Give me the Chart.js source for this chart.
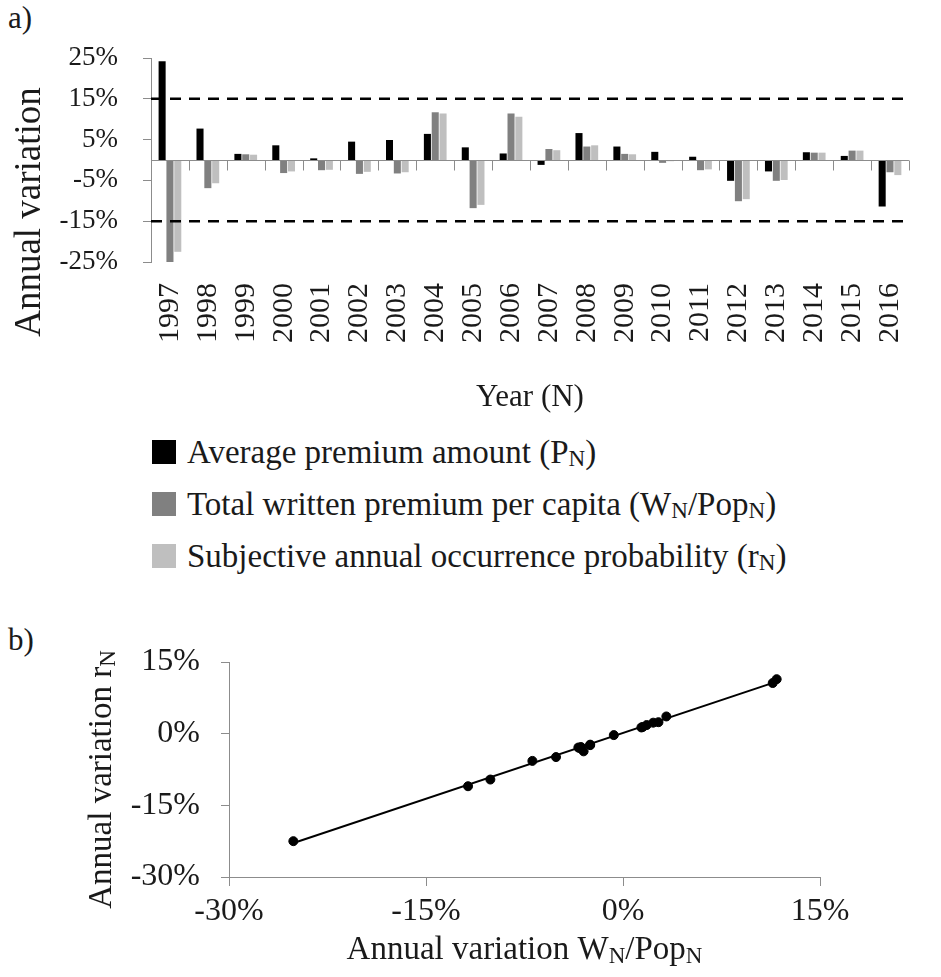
<!DOCTYPE html>
<html>
<head>
<meta charset="utf-8">
<title>Annual variation</title>
<script src="https://cdn.jsdelivr.net/npm/chart.js@4.4.1/dist/chart.umd.min.js"></script>
<style>
  html, body { margin: 0; padding: 0; background: #fff; overflow: hidden; }
  body { position: relative; width: 941px; height: 977px; font-family: "Liberation Serif", "Times New Roman", serif; color: #1a1a1a; }
  .wrap { position: absolute; left: 0; }
  #wrapTop { top: 0; width: 947px; height: 425px; }
  #wrapBottom { top: 600px; width: 941px; height: 377px; }
  .panel { position: absolute; left: 8px; font-size: 31px; line-height: 1; }
  #legend { position: absolute; left: 152px; top: 426px; font-size: 33px; }
  #legend .row { height: 52px; display: flex; align-items: center; white-space: nowrap; }
  #legend .sw { width: 24px; height: 24px; margin-right: 11px; flex: none; }
  sub { font-size: 70%; vertical-align: -0.15em; line-height: 0; }
</style>
</head>
<body>
<div class="panel" style="top:2px">a)</div>
<div class="panel" style="top:624px">b)</div>
<div class="wrap" id="wrapTop"><canvas id="barChart"></canvas></div>
<div id="legend"></div>
<div class="wrap" id="wrapBottom"><canvas id="scatterChart"></canvas></div>
<script>
// annual variation in %
const years = ['1997', '1998', '1999', '2000', '2001', '2002', '2003', '2004', '2005', '2006',
  '2007', '2008', '2009', '2010', '2011', '2012', '2013', '2014', '2015', '2016']
const avgPremium = [24.2, 7.7, 1.5, 3.6, 0.4, 4.5, 4.9, 6.4, 3.1, 1.6,
  -1.2, 6.6, 3.3, 2.0, 0.8, -5.1, -2.8, 1.9, 1.0, -11.4]
const writtenPerCapita = [-25.1, -6.9, 1.4, -3.2, -2.5, -3.4, -3.3, 11.7, -11.8, 11.4,
  2.7, 3.3, 1.5, -0.7, -2.5, -10.1, -5.1, 1.8, 2.3, -3.0]
const occurrenceProb = [-22.5, -5.7, 1.3, -2.8, -2.4, -2.9, -3.0, 11.4, -11.0, 10.6,
  2.4, 3.6, 1.4, -0.3, -2.3, -9.6, -4.9, 1.8, 2.3, -3.7]

const seriesNames = [
  'Average premium amount (PN)',
  'Total written premium per capita (WN/PopN)',
  'Subjective annual occurrence probability (rN)'
]
// same names split in [text, isSubscript] runs
const legendParts = [
  [['Average premium amount (P', 0], ['N', 1], [')', 0]],
  [['Total written premium per capita (W', 0], ['N', 1], ['/Pop', 0], ['N', 1], [')', 0]],
  [['Subjective annual occurrence probability (r', 0], ['N', 1], [')', 0]]
]
const barTicks = [-25, -15, -5, 5, 15, 25]
const limitLines = [15, -15]
const barYTitle = [['Annual variation', 0]]

const scatterTicks = [-30, -15, 0, 15]
const trendX = [-25.2, 11.7]
const trendY = [-23.0, 10.9]
const xTitleParts = [['Annual variation W', 0], ['N', 1], ['/Pop', 0], ['N', 1]]
const yTitleParts = [['Annual variation r', 0], ['N', 1]]

const seriesColors = ['#000000', '#808080', '#bfbfbf']
const axisColor = '#8c8c8c'
const textColor = '#1a1a1a'
const serif = '"Liberation Serif", "Times New Roman", serif'

Chart.defaults.font.family = serif
Chart.defaults.color = textColor

function setTicks(list) {
  return scale => { scale.ticks = list.map(v => ({ value: v })) }
}

function pct(v) {
  return v + '%'
}

// text with subscripts, centred on (x, y), optionally rotated to read upwards
function drawRich(ctx, parts, x, y, size, rotate) {
  const subSize = Math.round(size * 0.7)
  ctx.save()
  ctx.translate(x, y)
  if (rotate) ctx.rotate(-Math.PI / 2)
  ctx.fillStyle = textColor
  ctx.textBaseline = 'alphabetic'
  ctx.textAlign = 'left'
  const widths = parts.map(([t, sub]) => {
    ctx.font = (sub ? subSize : size) + 'px ' + serif
    return ctx.measureText(t).width
  })
  let cx = -widths.reduce((a, b) => a + b, 0) / 2
  const base = size * 0.33
  parts.forEach(([t, sub], i) => {
    ctx.font = (sub ? subSize : size) + 'px ' + serif
    ctx.fillText(t, cx, sub ? base + size * 0.12 : base)
    cx += widths[i]
  })
  ctx.restore()
}

// dashed +-15% limits, zero axis with category tick marks, y title
const barExtras = {
  id: 'barExtras',
  afterDatasetsDraw(chart) {
    const { ctx, chartArea, scales } = chart
    ctx.save()
    ctx.strokeStyle = axisColor
    ctx.lineWidth = 1
    const y0 = Math.round(scales.y.getPixelForValue(0)) + 0.5
    ctx.beginPath()
    ctx.moveTo(chartArea.left, y0)
    ctx.lineTo(chartArea.right, y0)
    const half = (scales.x.getPixelForValue(1) - scales.x.getPixelForValue(0)) / 2
    years.forEach((yr, i) => {
      const px = Math.round(scales.x.getPixelForValue(i) + half) + 0.5
      ctx.moveTo(px, y0)
      ctx.lineTo(px, y0 + 10)
    })
    ctx.stroke()

    ctx.strokeStyle = '#000'
    ctx.lineWidth = 2.5
    ctx.setLineDash([11, 8])
    limitLines.forEach(v => {
      const py = scales.y.getPixelForValue(v)
      ctx.beginPath()
      ctx.moveTo(chartArea.left, py)
      ctx.lineTo(chartArea.right, py)
      ctx.stroke()
    })
    ctx.restore()
  },
  afterDraw(chart) {
    const { ctx, chartArea } = chart
    drawRich(ctx, barYTitle, 28, (chartArea.top + chartArea.bottom) / 2 + 52, 37, true)
  }
}

const richTitles = {
  id: 'richTitles',
  afterDraw(chart) {
    const { ctx, chartArea } = chart
    drawRich(ctx, xTitleParts, (chartArea.left + chartArea.right) / 2, chartArea.bottom + 71, 33, false)
    drawRich(ctx, yTitleParts, 100, (chartArea.top + chartArea.bottom) / 2 + 10, 33, true)
  }
}

new Chart(document.getElementById('barChart'), {
  type: 'bar',
  data: {
    labels: years,
    datasets: [
      { label: seriesNames[0], data: avgPremium, backgroundColor: seriesColors[0] },
      { label: seriesNames[1], data: writtenPerCapita, backgroundColor: seriesColors[1] },
      { label: seriesNames[2], data: occurrenceProb, backgroundColor: seriesColors[2] }
    ]
  },
  options: {
    responsive: true,
    maintainAspectRatio: false,
    animation: false,
    datasets: { bar: { categoryPercentage: 0.62, barPercentage: 0.9 } },
    layout: { padding: { top: 58, left: 0, right: 0, bottom: 0 } },
    plugins: { legend: { display: false }, tooltip: { enabled: false } },
    scales: {
      x: {
        grid: { display: false, drawTicks: false },
        border: { display: false },
        ticks: { font: { size: 30 }, minRotation: 90, maxRotation: 90, padding: 21, autoSkip: false },
        title: { display: true, text: 'Year (N)', font: { size: 31 }, padding: { top: 0, bottom: 9 } },
        afterFit: s => { s.height = 163 }
      },
      y: {
        min: -25,
        max: 25,
        afterBuildTicks: setTicks(barTicks),
        ticks: { font: { size: 27 }, padding: 25, callback: pct },
        grid: { drawOnChartArea: false, tickLength: 8, color: axisColor },
        border: { color: axisColor },
        afterFit: s => { s.width = 151 }
      }
    }
  },
  plugins: [barExtras]
})

// legend with subscripts as html
const legendEl = document.getElementById('legend')
legendParts.forEach((parts, i) => {
  const row = document.createElement('div')
  row.className = 'row'
  const sw = document.createElement('span')
  sw.className = 'sw'
  sw.style.background = seriesColors[i]
  row.appendChild(sw)
  const txt = document.createElement('span')
  parts.forEach(([t, sub]) => {
    if (sub) {
      const s = document.createElement('sub')
      s.textContent = t
      txt.appendChild(s)
    } else {
      txt.appendChild(document.createTextNode(t))
    }
  })
  row.appendChild(txt)
  legendEl.appendChild(row)
})

const scatterPoints = writtenPerCapita.map((w, i) => ({ x: w, y: occurrenceProb[i] }))
const trendPoints = trendX.map((x, i) => ({ x: x, y: trendY[i] }))

new Chart(document.getElementById('scatterChart'), {
  type: 'scatter',
  data: {
    datasets: [
      { label: 'Years', data: scatterPoints, backgroundColor: '#000', borderColor: '#000', pointRadius: 4.5 },
      { label: 'Trend', data: trendPoints, showLine: true, borderColor: '#000', borderWidth: 2, pointRadius: 0 }
    ]
  },
  options: {
    responsive: true,
    maintainAspectRatio: false,
    animation: false,
    layout: { padding: { top: 62, right: 121, left: 0, bottom: 0 } },
    plugins: { legend: { display: false }, tooltip: { enabled: false } },
    scales: {
      x: {
        type: 'linear',
        min: -30,
        max: 15,
        afterBuildTicks: setTicks(scatterTicks),
        ticks: { font: { size: 32 }, padding: 6, callback: pct },
        grid: { drawOnChartArea: false, tickLength: 9, color: axisColor },
        border: { color: axisColor },
        afterFit: s => { s.height = 100 }
      },
      y: {
        type: 'linear',
        min: -30,
        max: 15,
        afterBuildTicks: setTicks(scatterTicks),
        ticks: { font: { size: 32 }, padding: 21, callback: pct },
        grid: { drawOnChartArea: false, tickLength: 8, color: axisColor },
        border: { color: axisColor },
        afterFit: s => { s.width = 229 }
      }
    }
  },
  plugins: [richTitles]
})
</script>
</body>
</html>
